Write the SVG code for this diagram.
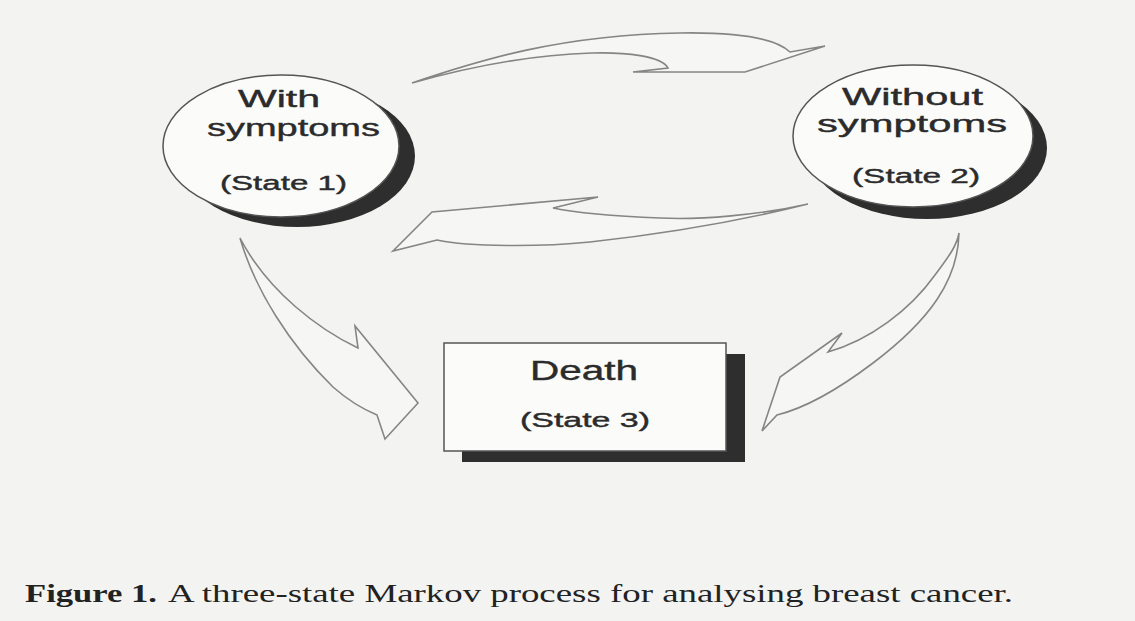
<svg xmlns="http://www.w3.org/2000/svg" width="1135" height="621" viewBox="0 0 1135 621">
<style>
.bg{fill:#f3f3f1}
.node{fill:#fbfbfa;stroke:#555;stroke-width:1.5}
.shadow{fill:#2e2e2e}
.arrow{fill:#f6f6f4;stroke:#858585;stroke-width:1.6;stroke-linejoin:miter}
.lbl{font-family:"Liberation Sans",Arial,sans-serif;fill:#2b2b2b;stroke:#2b2b2b;stroke-width:0.4}
.big{font-size:24px}
.small{font-size:20px}
.cap{font-family:"Liberation Serif","Times New Roman",serif;font-size:25px;fill:#222}
</style>
<rect class="bg" x="0" y="0" width="1135" height="621"/>
<g id="connectors">
<path class="arrow" d="M 412,83 C 480,60 560,35 680,33 C 740,32 775,38 790,52 L 825,46 L 745,72 L 633,72 L 668,68 C 662,56 625,52 592,53 C 525,55 465,68 412,83 Z"/>
<path class="arrow" d="M 808,204 C 760,215 700,220 660,218 C 610,216 572,212 553,208 L 598,197 L 432,212 L 393,251 L 437,240 C 470,247 540,247 590,242 C 680,232 760,216 808,204 Z"/>
<path class="arrow" d="M 240,238 C 255,290 290,345 333,387 C 350,402 365,410 377,415 L 385,439 L 418,403 L 355,326 L 358,348 C 320,330 268,292 240,238 Z"/>
<path class="arrow" d="M 959,233 C 958,280 930,320 873,363 C 840,388 805,408 777,415 L 762,431 L 780,377 L 842,333 L 828,352 C 870,340 910,310 935,275 C 950,255 957,245 959,233 Z"/>
</g>
<g id="state1">
<ellipse class="shadow" cx="297" cy="156" rx="118" ry="71"/>
<ellipse class="node" cx="281" cy="146" rx="118" ry="71"/>
<text class="lbl big" x="238" y="107" textLength="82" lengthAdjust="spacingAndGlyphs">With</text>
<text class="lbl big" x="207" y="136" textLength="173" lengthAdjust="spacingAndGlyphs">symptoms</text>
<text class="lbl small" x="220" y="190" textLength="127" lengthAdjust="spacingAndGlyphs">(State 1)</text>
</g>
<g id="state2">
<ellipse class="shadow" cx="927" cy="148" rx="120" ry="71"/>
<ellipse class="node" cx="913" cy="136" rx="120" ry="71"/>
<text class="lbl big" x="842" y="105" textLength="141" lengthAdjust="spacingAndGlyphs">Without</text>
<text class="lbl big" x="817" y="132" textLength="190" lengthAdjust="spacingAndGlyphs">symptoms</text>
<text class="lbl small" x="852" y="183" textLength="128" lengthAdjust="spacingAndGlyphs">(State 2)</text>
</g>
<g id="state3">
<rect class="shadow" x="462" y="354" width="283" height="108"/>
<rect class="node" x="444" y="343" width="282" height="108"/>
<text class="lbl big" x="530" y="380" font-size="27" style="font-size:27px" textLength="108" lengthAdjust="spacingAndGlyphs">Death</text>
<text class="lbl small" x="520" y="427" textLength="130" lengthAdjust="spacingAndGlyphs">(State 3)</text>
</g>
<g id="caption">
<text class="cap" x="25" y="602" font-weight="bold" textLength="132" lengthAdjust="spacingAndGlyphs">Figure 1.</text>
<text class="cap" x="168" y="602" textLength="845" lengthAdjust="spacingAndGlyphs">A three-state Markov process for analysing breast cancer.</text>
</g>
</svg>
